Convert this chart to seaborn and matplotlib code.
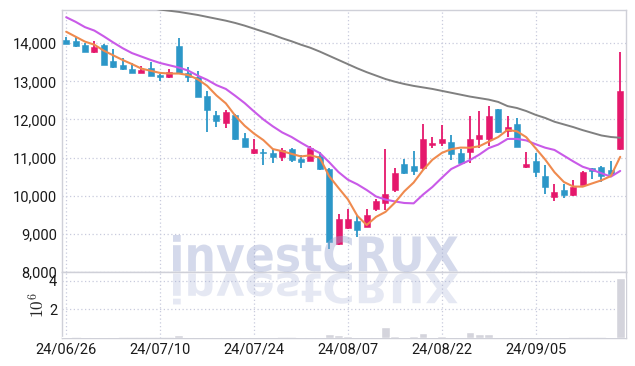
import matplotlib
matplotlib.use('Agg')
import matplotlib.pyplot as plt
import pandas as pd
import seaborn as sns
from matplotlib.font_manager import FontProperties
from matplotlib.patches import PathPatch
from matplotlib.textpath import TextPath
from matplotlib.transforms import Affine2D, IdentityTransform
from matplotlib.ticker import FuncFormatter

OUTPUT_FILEPATH = 'out.png'

# 거래일 (24/06/26 ~ 24/09/23)
dates = ['24/06/26', '24/06/27', '24/06/28', '24/07/01', '24/07/02', '24/07/03', '24/07/04', '24/07/05',
         '24/07/08', '24/07/09', '24/07/10', '24/07/11', '24/07/12', '24/07/15', '24/07/16', '24/07/17',
         '24/07/18', '24/07/19', '24/07/22', '24/07/23', '24/07/24', '24/07/25', '24/07/26', '24/07/29',
         '24/07/30', '24/07/31', '24/08/01', '24/08/02', '24/08/05', '24/08/06', '24/08/07', '24/08/08',
         '24/08/09', '24/08/12', '24/08/13', '24/08/14', '24/08/16', '24/08/19', '24/08/20', '24/08/21',
         '24/08/22', '24/08/23', '24/08/26', '24/08/27', '24/08/28', '24/08/29', '24/08/30', '24/09/02',
         '24/09/03', '24/09/04', '24/09/05', '24/09/06', '24/09/09', '24/09/10', '24/09/11', '24/09/12',
         '24/09/13', '24/09/19', '24/09/20', '24/09/23']

opens = [14080, 14060, 13940, 13770, 13940, 13540, 13440, 13330, 13230, 13360,
         13170, 13100, 13930, 13230, 13100, 12610, 12110, 11900, 12110, 11510,
         11130, 11130, 11130, 11010, 11220, 10970, 10920, 11050, 10700, 8730,
         9160, 9350, 9180, 9650, 9800, 10150, 10820, 10770, 10740, 11320,
         11370, 11400, 11110, 11150, 11480, 11500, 12270, 11710, 11880, 10760,
         10910, 10510, 9970, 10140, 10010, 10280, 10720, 10750, 10670, 11220]
highs = [14170, 14170, 14000, 14070, 13980, 13840, 13610, 13470, 13390, 13500,
         13190, 13320, 14130, 13370, 13260, 12740, 12220, 12250, 12130, 11640,
         11480, 11220, 11230, 11240, 11240, 11080, 11310, 11150, 10720, 9530,
         9645, 9490, 9645, 9925, 11220, 10740, 10950, 11180, 11870, 11530,
         11850, 11590, 11220, 12090, 12230, 12360, 12280, 12100, 12030, 11150,
         11130, 10800, 10320, 10300, 10425, 10655, 10730, 10780, 10900, 13760]
lows = [13970, 13910, 13770, 13750, 13420, 13360, 13290, 13220, 13210, 13140,
        13020, 13090, 13200, 12990, 12590, 11660, 11810, 11770, 11470, 11270,
        11100, 10800, 10850, 10910, 10890, 10720, 10910, 10670, 8610, 8700,
        9140, 8920, 9170, 9600, 9620, 10100, 10570, 10540, 10670, 11260,
        11310, 10930, 10840, 10860, 11240, 11300, 11640, 11545, 11270, 10715,
        10500, 10040, 9855, 9930, 10000, 10270, 10430, 10360, 10560, 11210]
closes = [13990, 13930, 13770, 13890, 13440, 13380, 13320, 13230, 13300, 13150,
          13100, 13240, 13230, 13100, 12600, 12250, 11970, 12190, 11480, 11290,
          11220, 11110, 11020, 11200, 10940, 10880, 11260, 10700, 8790, 9390,
          9380, 9110, 9490, 9860, 10040, 10590, 10590, 10650, 11500, 11390,
          11480, 11090, 10850, 11480, 11590, 12090, 11680, 11790, 11290, 10820,
          10630, 10230, 10110, 10010, 10230, 10610, 10650, 10520, 10570, 12750]

# 이동평균선
ma_short = [14300, 14170, 14040, 13960, 13804, 13682, 13560, 13452, 13334, 13276,
            13220, 13204, 13204, 13164, 13054, 12884, 12630, 12422, 12098, 11836,
            11630, 11458, 11224, 11168, 11098, 11030, 11060, 10996, 10514, 10204,
            9904, 9474, 9232, 9446, 9576, 9818, 10114, 10346, 10674, 10944,
            11122, 11222, 11262, 11258, 11298, 11420, 11538, 11726, 11688, 11534,
            11242, 10952, 10616, 10360, 10242, 10238, 10322, 10404, 10516, 11020]
ma_mid = [14680, 14560, 14420, 14330, 14180, 14020, 13870, 13740, 13650, 13560,
          13480, 13420, 13360, 13280, 13150, 13040, 12900, 12800, 12620, 12430,
          12210, 12000, 11820, 11660, 11540, 11390, 11250, 11120, 10880, 10620,
          10420, 10300, 10150, 9980, 9900, 9850, 9810, 9800, 10030, 10230,
          10470, 10700, 10820, 10935, 11080, 11250, 11340, 11490, 11490, 11450,
          11350, 11260, 11200, 11050, 10900, 10760, 10680, 10590, 10500, 10650]
ma_long = [15350, 15300, 15250, 15200, 15150, 15100, 15050, 15000, 14960, 14920,
           14880, 14850, 14820, 14780, 14740, 14690, 14640, 14590, 14530, 14460,
           14380, 14300, 14220, 14130, 14050, 13960, 13880, 13780, 13670, 13560,
           13450, 13340, 13240, 13150, 13060, 12990, 12930, 12880, 12840, 12800,
           12750, 12700, 12650, 12600, 12560, 12520, 12460, 12350, 12300, 12220,
           12120, 12040, 11940, 11870, 11800, 11720, 11650, 11580, 11540, 11520]

# 거래량 (단위: 10^6)
volume = [0.05, 0.03, 0.10, 0.04, 0.10, 0.04, 0.03, 0.03, 0.02, 0.03,
          0.03, 0.03, 0.20, 0.08, 0.09, 0.10, 0.04, 0.06, 0.09, 0.08,
          0.06, 0.08, 0.04, 0.03, 0.03, 0.04, 0.05, 0.08, 0.28, 0.20,
          0.12, 0.08, 0.06, 0.10, 0.75, 0.15, 0.10, 0.12, 0.33, 0.10,
          0.15, 0.08, 0.06, 0.40, 0.28, 0.27, 0.08, 0.06, 0.08, 0.05,
          0.06, 0.05, 0.05, 0.04, 0.03, 0.03, 0.03, 0.03, 0.04, 4.17]

UP_COLOR = '#e5186c'
DOWN_COLOR = '#2c97c8'
GRID_COLOR = '#c8cbdd'
SPINE_COLOR = '#cfd0d8'

sns.set_theme(style='white')
plt.rcParams['font.family'] = ['Roboto', 'DejaVu Sans']
plt.rcParams['mathtext.fontset'] = 'cm'


def build_df() -> pd.DataFrame:
    df = pd.DataFrame({'date': dates, 'open': opens, 'high': highs, 'low': lows,
                       'close': closes, 'ma5': ma_short, 'ma20': ma_mid, 'ma60': ma_long,
                       'volume': volume})
    df['idx'] = range(len(df))
    df['up'] = df['close'] >= df['open']
    df['body_bottom'] = df[['open', 'close']].min(axis=1)
    df['body_height'] = (df['close'] - df['open']).abs().clip(lower=25)
    return df


def style_axes(ax):
    for s in ax.spines.values():
        s.set_color(SPINE_COLOR)
        s.set_linewidth(1.0)
    ax.grid(True, linestyle=(0, (1, 2)), color=GRID_COLOR, linewidth=0.9)
    ax.tick_params(length=0, labelsize=10.5, colors='#1a1a1a')


def add_watermark(fig):
    fp = FontProperties(family='DejaVu Sans', weight='bold')
    tp = TextPath((0, 0), 'investCRUX', size=50, prop=fp)
    ext = tp.get_extents()
    # 원본 글자 위치 (픽셀, 아래쪽 기준)
    x0, x1 = 173, 458
    y0, y1 = 94, 131
    sx = (x1 - x0) / ext.width
    sy = (y1 - y0) / ext.height
    tr = Affine2D().translate(-ext.x0, -ext.y0).scale(sx, sy).translate(x0, y0)
    main = PathPatch(tr.transform_path(tp), transform=IdentityTransform(),
                     fc='#9aa6d0', ec='none', alpha=0.42, zorder=10)
    fig.add_artist(main)
    # 반사된 글자
    tr_r = Affine2D().translate(-ext.x0, -ext.y0).scale(sx, -sy * 0.85).translate(x0, y0 - 1)
    refl = PathPatch(tr_r.transform_path(tp), transform=IdentityTransform(),
                     fc='#9aa6d0', ec='none', alpha=0.25, zorder=10)
    fig.add_artist(refl)


def main():
    df = build_df()

    fig = plt.figure(figsize=(6.35, 3.66), dpi=100)
    ax = fig.add_axes([0.0976, 0.2568, 0.888, 0.7159])
    axv = fig.add_axes([0.0976, 0.0765, 0.888, 0.1803], sharex=ax)

    # 캔들
    colors = [UP_COLOR if u else DOWN_COLOR for u in df['up']]
    ax.vlines(df['idx'], df['low'], df['high'], colors=colors, linewidth=1.3, zorder=3)
    ax.bar(df['idx'], df['body_height'], bottom=df['body_bottom'], width=0.64,
           color=colors, edgecolor=colors, linewidth=0.4, zorder=4)

    # 이동평균선
    sns.lineplot(data=df, x='idx', y='ma60', ax=ax, color='#808080', linewidth=1.4, zorder=5)
    sns.lineplot(data=df, x='idx', y='ma20', ax=ax, color='#c95ae8', linewidth=1.5, zorder=5)
    sns.lineplot(data=df, x='idx', y='ma5', ax=ax, color='#ef8a4e', linewidth=1.5, zorder=6)

    ax.set_xlim(-0.45, 59.6)
    ax.set_ylim(8000, 14870)
    ax.set_yticks(range(8000, 15000, 1000))
    ax.yaxis.set_major_formatter(FuncFormatter(lambda v, p: f'{int(v):,}'))
    ax.set_xlabel('')
    ax.set_ylabel('')
    style_axes(ax)
    ax.tick_params(axis='x', labelbottom=False)

    # 거래량
    sns.barplot(data=df, x='idx', y='volume', ax=axv, native_scale=True, color='#d4d4dc',
                saturation=1, width=0.95, errorbar=None, zorder=3)
    axv.set_ylim(0, 4.6)
    axv.set_yticks([2, 4])
    axv.set_xticks(df['idx'][::10])
    axv.set_xticklabels(df['date'][::10])
    axv.set_xlim(-0.45, 59.6)
    axv.set_xlabel('')
    axv.set_ylabel(r'$10^6$', fontsize=12.5, labelpad=1)
    style_axes(axv)
    axv.tick_params(axis='x', pad=3)

    add_watermark(fig)

    fig.savefig(OUTPUT_FILEPATH, dpi=100)


if __name__ == '__main__':
    main()
